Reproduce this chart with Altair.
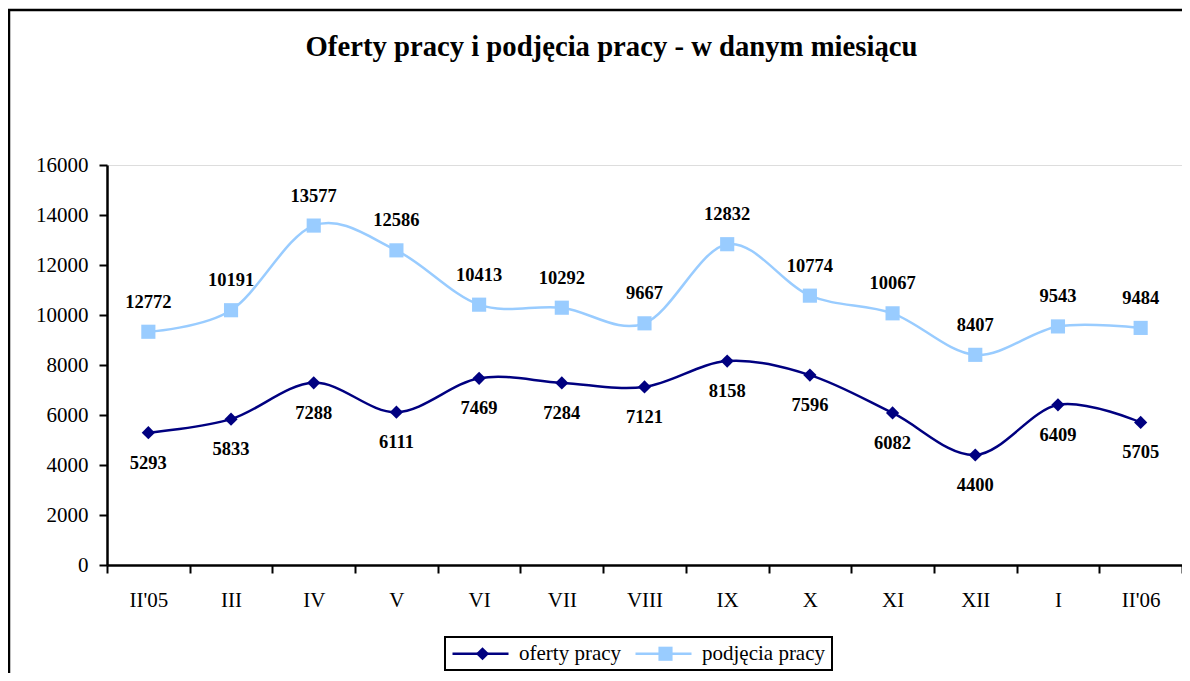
import altair as alt
import pandas as pd

# ---- data ----
months = ["II'05", "III", "IV", "V", "VI", "VII", "VIII", "IX", "X", "XI", "XII", "I", "II'06"]
oferty = [5293, 5833, 7288, 6111, 7469, 7284, 7121, 8158, 7596, 6082, 4400, 6409, 5705]
podjecia = [9330, 10191, 13577, 12586, 10413, 10292, 9667, 12832, 10774, 10067, 8407, 9543, 9484]
podjecia_labels = ["12772", "10191", "13577", "12586", "10413", "10292", "9667",
                   "12832", "10774", "10067", "8407", "9543", "9484"]
oferty_labels = [str(v) for v in oferty]
series_names = ["oferty pracy", "podjęcia pracy"]
series_colors = ["#000080", "#99CCFF"]
y_ticks = [0, 2000, 4000, 6000, 8000, 10000, 12000, 14000, 16000]
title_text = "Oferty pracy i podjęcia pracy - w danym miesiącu"

rows = []
for i, m in enumerate(months):
    rows.append({"month": m, "order": i, "series": series_names[0],
                 "series_line": series_names[0],
                 "value": oferty[i], "label": oferty_labels[i]})
    rows.append({"month": m, "order": i, "series": series_names[1],
                 "series_line": series_names[1],
                 "value": podjecia[i], "label": podjecia_labels[i]})
df = pd.DataFrame(rows)

FONT = "Liberation Serif"

x_enc = alt.X(
    "month:N", sort=months,
    scale=alt.Scale(type="band", paddingInner=0, paddingOuter=0),
    axis=alt.Axis(title=None, labelAngle=0, tickBand="extent", tickSize=8,
                  tickWidth=2, tickColor="black", domainColor="black",
                  domainWidth=2.5, labelFont=FONT, labelFontSize=21,
                  labelColor="black", labelPadding=16, grid=False),
)
y_enc = alt.Y(
    "value:Q",
    scale=alt.Scale(domain=[0, 16000], nice=False, zero=True),
    axis=alt.Axis(title=None, values=y_ticks, format="d", grid=False,
                  tickSize=8, tickWidth=2, tickColor="black",
                  domainColor="black", domainWidth=2.5, labelFont=FONT,
                  labelFontSize=21, labelColor="black", labelPadding=11),
)

# Legend = two overlaid legends: line segments (from the lines) + markers
line_legend = alt.Legend(
    title=None, orient="none", legendX=338, legendY=453,
    direction="horizontal", labelFont=FONT, labelFontSize=21,
    labelColor="black", labelOpacity=0, symbolType="stroke",
    symbolSize=3136, labelOffset=5, symbolStrokeWidth=2.5, symbolOpacity=1,
    columnPadding=12, padding=6,
)
marker_legend = alt.Legend(
    title=None, orient="none", legendX=338, legendY=472,
    direction="horizontal", labelFont=FONT, labelFontSize=21,
    labelColor="black", symbolSize=196, labelOffset=26, symbolOffset=21,
    symbolStrokeWidth=0, symbolOpacity=1,
    columnPadding=12, padding=6, strokeColor="black",
)

base = alt.Chart(df)

lines = base.mark_line(interpolate="cardinal", tension=0, strokeWidth=2.5).encode(
    x=x_enc, y=y_enc,
    stroke=alt.Stroke("series_line:N",
                      scale=alt.Scale(range=series_colors),
                      legend=line_legend),
    order=alt.Order("order:Q"),
)

points = base.mark_point(filled=True, opacity=1).encode(
    x=x_enc, y=y_enc,
    color=alt.Color("series:N",
                    scale=alt.Scale(domain=series_names, range=series_colors),
                    legend=marker_legend),
    shape=alt.Shape("series:N",
                    scale=alt.Scale(domain=series_names, range=["diamond", "square"]),
                    legend=marker_legend),
    size=alt.Size("series:N",
                  scale=alt.Scale(domain=series_names, range=[175, 200]),
                  legend=None),
)

labels_top = base.transform_filter(
    alt.datum.series == series_names[1]
).mark_text(dy=-30, font=FONT, fontSize=18.5, fontWeight="bold",
            color="black", baseline="middle").encode(
    x=x_enc, y=y_enc, text="label:N")

labels_bottom = base.transform_filter(
    alt.datum.series == series_names[0]
).mark_text(dy=30, font=FONT, fontSize=18.5, fontWeight="bold",
            color="black", baseline="middle").encode(
    x=x_enc, y=y_enc, text="label:N")

border_df = pd.DataFrame({"k": [0]})
left_border = alt.Chart(border_df).mark_rule(color="black", strokeWidth=2.5).encode(
    x=alt.value(-98), y=alt.value(-155), y2=alt.value(520))
top_border = alt.Chart(border_df).mark_rule(color="black", strokeWidth=2.5).encode(
    y=alt.value(-155), x=alt.value(-99), x2=alt.value(1090))

chart = alt.layer(
    left_border, top_border, lines, points, labels_top, labels_bottom
).properties(
    width=1075, height=400,
    title=alt.TitleParams(text=title_text, font=FONT, fontSize=28.7,
                          fontWeight="bold", color="black", anchor="middle",
                          frame="group", dx=-33, baseline="alphabetic",
                          offset=-76),
    autosize=alt.AutoSizeParams(type="none"),
    padding={"left": 99, "top": 157, "right": 0, "bottom": 108},
).configure_view(stroke=None).configure(background="white").configure_legend(
    strokeWidth=2
)

chart.save("out.html", embed_options={"renderer": "svg", "actions": False})
